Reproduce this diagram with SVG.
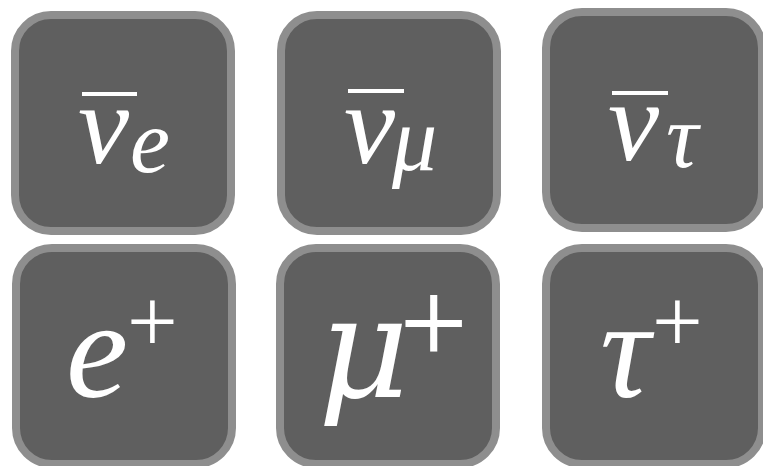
<svg xmlns="http://www.w3.org/2000/svg" width="763" height="466" viewBox="0 0 763 466">
<rect width="763" height="466" fill="#ffffff"/>
<g id="node-nubar-e">
<rect x="15" y="15" width="216" height="216" rx="36" fill="#5f5f5f" stroke="#8e8e8e" stroke-width="8"/>
<rect x="82" y="92" width="55" height="4" fill="#ffffff"/>
<g font-size="115" fill="#fff">
<text x="78" y="163" font-family="Liberation Serif" font-style="italic">ν</text>
</g>
<g font-size="90" fill="#fff">
<text x="130" y="172" font-family="Liberation Serif" font-style="italic">e</text>
</g>
</g>
<g id="node-nubar-mu">
<rect x="281" y="15" width="216" height="216" rx="36" fill="#5f5f5f" stroke="#8e8e8e" stroke-width="8"/>
<rect x="348" y="89" width="56" height="4" fill="#ffffff"/>
<text x="344" y="163" font-size="115" font-family="Times New Roman" font-style="italic" fill="#ffffff">ν</text>
<text x="392" y="170" font-size="90" font-family="Times New Roman" font-style="italic" fill="#ffffff">μ</text>
</g>
<g id="node-nubar-tau">
<rect x="546" y="12" width="216" height="216" rx="36" fill="#5f5f5f" stroke="#8e8e8e" stroke-width="8"/>
<rect x="612" y="91" width="56" height="4" fill="#ffffff"/>
<text x="608" y="160" font-size="115" font-family="serif" font-style="oblique" fill="#ffffff">ν</text>
<text x="666" y="167" font-size="90" font-family="serif" font-style="oblique" fill="#ffffff">τ</text>
</g>
<g id="node-positron">
<rect x="16" y="248" width="216" height="216" rx="36" fill="#5f5f5f" stroke="#8e8e8e" stroke-width="8"/>
<text x="66" y="397" font-size="140" font-family="Liberation Serif, Times New Roman, serif" font-style="italic" fill="#ffffff">e</text>
<text x="127" y="352" font-size="90" font-family="Liberation Serif, Times New Roman, serif" fill="#ffffff">+</text>
</g>
<g id="node-antimuon">
<rect x="280" y="248" width="216" height="216" rx="36" fill="#5f5f5f" stroke="#8e8e8e" stroke-width="8"/>
<text x="318" y="397" font-size="140" font-family="DejaVu Serif" font-style="italic" fill="#ffffff">μ</text>
<text x="396" y="352" font-size="90" font-family="DejaVu Serif" fill="#ffffff">+</text>
</g>
<g id="node-antitau">
<rect x="546" y="248" width="216" height="216" rx="36" fill="#5f5f5f" stroke="#8e8e8e" stroke-width="8"/>
<text x="600" y="397" font-size="140" font-family="Liberation Serif" font-style="italic" fill="#ffffff">τ </text>
<text x="652" y="352" font-size="90" font-family="Liberation Serif" fill="#ffffff">+</text>
</g>
<g id="connectors"></g>
</svg>
